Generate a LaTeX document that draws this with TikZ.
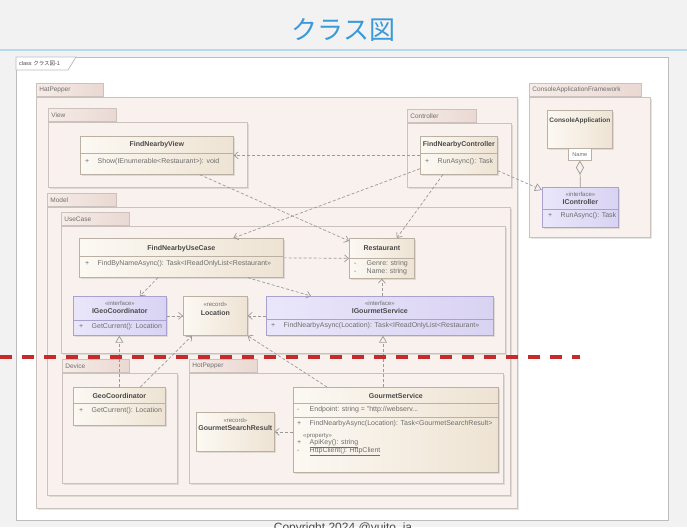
\documentclass[tikz,border=0pt]{standalone}
\usepackage{fontspec}
\setmainfont{Liberation Sans}
\newfontfamily\cjk{Noto Sans CJK JP}
\usetikzlibrary{arrows.meta,calc,shadows}

\definecolor{bggray}{HTML}{F2F2F2}
\definecolor{titleblue}{HTML}{3A9AD9}
\definecolor{rulecol}{HTML}{B5DAF0}
\definecolor{framel}{HTML}{BDBDBD}
\definecolor{pkgfill}{HTML}{F8F1ED}
\definecolor{pkgline}{HTML}{CBC2BE}
\definecolor{tabl}{HTML}{F6ECE8}
\definecolor{tabr}{HTML}{EAD8D2}
\definecolor{clsl}{HTML}{FCF9F3}
\definecolor{clsr}{HTML}{EEE3D3}
\definecolor{clsline}{HTML}{BBB0A4}
\definecolor{ifl}{HTML}{EAE6FA}
\definecolor{ifr}{HTML}{D9D3F3}
\definecolor{ifline}{HTML}{A9A1CE}
\definecolor{txtdark}{HTML}{4A4A4A}
\definecolor{txtgray}{HTML}{6E6E6E}
\definecolor{depc}{HTML}{9A9A9A}
\definecolor{cutred}{HTML}{C62A2A}

\newcommand{\umlvis}[1]{\makebox[12.5pt][l]{#1}}

\tikzset{
    pkg/.style =    {rectangle,
                    fill=pkgfill,
                    draw=pkgline,
                    line width=0.8pt,
                    anchor=north west,
                    inner sep=0pt,
                    drop shadow={shadow xshift=1.5pt,shadow yshift=-1.5pt,opacity=0.2}},
    pkgtab/.style = {rectangle,
                    left color=tabl,
                    right color=tabr,
                    draw=pkgline,
                    line width=0.8pt,
                    anchor=south west,
                    minimum height=13pt,
                    inner xsep=3pt,
                    inner ysep=0pt,
                    text width=#1,
                    align=left,
                    text=txtgray,
                    font=\fontsize{6.5}{7}\selectfont},
    cls/.style =    {rectangle,
                    left color=clsl,
                    right color=clsr,
                    draw=clsline,
                    line width=0.7pt,
                    anchor=north west,
                    inner sep=0pt,
                    drop shadow={shadow xshift=1.2pt,shadow yshift=-1.2pt,opacity=0.2}},
    ifc/.style =    {cls,
                    left color=ifl,
                    right color=ifr,
                    draw=ifline},
    sep/.style =    {draw=clsline, line width=0.6pt},
    ifsep/.style =  {draw=ifline, line width=0.6pt},
    cname/.style =  {inner sep=0pt,
                    text=txtdark,
                    font=\fontsize{7}{8}\selectfont\bfseries},
    stereo/.style = {inner sep=0pt,
                    text=txtgray,
                    font=\fontsize{6}{7}\selectfont},
    member/.style = {anchor=west,
                    inner sep=0pt,
                    text=txtgray,
                    font=\fontsize{7}{8}\selectfont},
    dep/.style =    {draw=depc,
                    line width=0.7pt,
                    dash pattern=on 3pt off 2pt,
                    -{Straight Barb[length=4pt,width=7pt]}},
    real/.style =   {draw=depc,
                    line width=0.7pt,
                    dash pattern=on 3pt off 2pt,
                    -{Triangle[open,length=7pt,width=8pt]}},
    aggr/.style =   {draw=depc,
                    line width=0.7pt,
                    {Diamond[open,length=14pt,width=8pt]}-},
    cutline/.style = {draw=cutred,
                    line width=3.2pt,
                    dash pattern=on 12pt off 10pt}
}

\begin{document}
\begin{tikzpicture}[x=1pt,y=-1pt]
    \useasboundingbox (0,0) rectangle (687,527);
    \fill[bggray] (0,0) rectangle (687,527);
    \node[font=\cjk\fontsize{26}{30}\selectfont, text=titleblue] (title) at (343.5,30) {クラス図};
    \draw[rulecol, line width=1.2pt] (0,50) -- (687,50);

    \node[rectangle, fill=white, draw=framel, line width=0.8pt, anchor=north west, inner sep=0pt,
          minimum width=652pt, minimum height=463pt] (frame) at (16,57) {};
    \draw[framel, fill=white, line width=0.8pt] (frame.north west) -- ++(60,0) -- ++(-8,13) -- ++(-52,0) -- cycle;
    \node[anchor=west, inner sep=0pt, text=txtdark, font=\fontsize{5.5}{6}\selectfont] (frame-lbl)
          at ([xshift=3pt,yshift=-6.5pt]frame.north west) {class {\cjk クラス図}-1};

    \node[pkg, minimum width=481pt, minimum height=411pt] (hatpepper) at (36,97) {};
    \node[pkgtab=61pt] (hatpepper-tab) at (hatpepper.north west) {HatPepper};
    \node[pkg, minimum width=199pt, minimum height=65pt] (view) at (48,122) {};
    \node[pkgtab=62pt] (view-tab) at (view.north west) {View};
    \node[pkg, minimum width=104pt, minimum height=64pt] (controller) at (407,123) {};
    \node[pkgtab=63pt] (controller-tab) at (controller.north west) {Controller};
    \node[pkg, minimum width=463pt, minimum height=288pt] (model) at (47,207) {};
    \node[pkgtab=63pt] (model-tab) at (model.north west) {Model};
    \node[pkg, minimum width=444pt, minimum height=127pt] (usecase) at (61,226) {};
    \node[pkgtab=62pt] (usecase-tab) at (usecase.north west) {UseCase};
    \node[pkg, minimum width=115pt, minimum height=110pt] (device) at (62,373) {};
    \node[pkgtab=61pt] (device-tab) at (device.north west) {Device};
    \node[pkg, minimum width=314pt, minimum height=110pt] (hotpepper) at (189,373) {};
    \node[pkgtab=62pt] (hotpepper-tab) at (hotpepper.north west) {HotPepper};
    \node[pkg, minimum width=121pt, minimum height=140pt] (caf) at (529,97) {};
    \node[pkgtab=106pt] (caf-tab) at (caf.north west) {ConsoleApplicationFramework};

    \node[cls, minimum width=153pt, minimum height=38pt] (fnview) at (80,136) {};
    \draw[sep] ([yshift=-17pt]fnview.north west) -- ([yshift=-17pt]fnview.north east);
    \node[cname] (fnview-name) at ([yshift=-9pt]fnview.north) {FindNearbyView};
    \node[member] (fnview-op) at ([xshift=5pt,yshift=-26pt]fnview.north west) {\umlvis{+}Show(IEnumerable<Restaurant>): void};

    \node[cls, minimum width=77pt, minimum height=38pt] (fnctrl) at (420,136) {};
    \draw[sep] ([yshift=-17pt]fnctrl.north west) -- ([yshift=-17pt]fnctrl.north east);
    \node[cname] (fnctrl-name) at ([yshift=-9pt]fnctrl.north) {FindNearbyController};
    \node[member] (fnctrl-op) at ([xshift=5pt,yshift=-26pt]fnctrl.north west) {\umlvis{+}RunAsync(): Task};

    \node[cls, minimum width=65pt, minimum height=38pt] (conapp) at (547,110) {};
    \node[cname, font=\fontsize{6.5}{7}\selectfont\bfseries] (conapp-name) at ([yshift=-11pt]conapp.north) {ConsoleApplication};
    \node[rectangle, fill=white, draw=clsline, line width=0.6pt, anchor=north west, inner sep=0pt,
          minimum width=23pt, minimum height=12pt, text=txtgray, font=\fontsize{5.5}{6}\selectfont] (namelbl) at (568,148) {Name};

    \node[ifc, minimum width=76pt, minimum height=40pt] (ictrl) at (542,187) {};
    \draw[ifsep] ([yshift=-22pt]ictrl.north west) -- ([yshift=-22pt]ictrl.north east);
    \node[stereo] (ictrl-st) at ([yshift=-7pt]ictrl.north) {«interface»};
    \node[cname] (ictrl-name) at ([yshift=-15pt]ictrl.north) {IController};
    \node[member] (ictrl-op) at ([xshift=6pt,yshift=-29pt]ictrl.north west) {\umlvis{+}RunAsync(): Task};

    \node[cls, minimum width=204pt, minimum height=39pt] (fnuc) at (79,238) {};
    \draw[sep] ([yshift=-18pt]fnuc.north west) -- ([yshift=-18pt]fnuc.north east);
    \node[cname] (fnuc-name) at ([yshift=-11pt]fnuc.north) {FindNearbyUseCase};
    \node[member] (fnuc-op) at ([xshift=6pt,yshift=-26pt]fnuc.north west) {\umlvis{+}FindByNameAsync(): Task<IReadOnlyList<Restaurant>>};

    \node[cls, minimum width=65pt, minimum height=40pt] (rest) at (349,238) {};
    \draw[sep] ([yshift=-20pt]rest.north west) -- ([yshift=-20pt]rest.north east);
    \node[cname] (rest-name) at ([yshift=-10pt]rest.north) {Restaurant};
    \node[member] (rest-genre) at ([xshift=5pt,yshift=-25.5pt]rest.north west) {\umlvis{-}Genre: string};
    \node[member] (rest-nm) at ([xshift=5pt,yshift=-33.5pt]rest.north west) {\umlvis{-}Name: string};

    \node[ifc, minimum width=93pt, minimum height=39pt] (igeo) at (73,296) {};
    \draw[ifsep] ([yshift=-24pt]igeo.north west) -- ([yshift=-24pt]igeo.north east);
    \node[stereo] (igeo-st) at ([yshift=-7pt]igeo.north) {«interface»};
    \node[cname] (igeo-name) at ([yshift=-15pt]igeo.north) {IGeoCoordinator};
    \node[member] (igeo-op) at ([xshift=6pt,yshift=-31pt]igeo.north west) {\umlvis{+}GetCurrent(): Location};

    \node[cls, minimum width=64pt, minimum height=39pt] (loc) at (183,296) {};
    \node[stereo] (loc-st) at ([yshift=-8pt]loc.north) {«record»};
    \node[cname] (loc-name) at ([yshift=-17pt]loc.north) {Location};

    \node[ifc, minimum width=227pt, minimum height=39pt] (igour) at (266,296) {};
    \draw[ifsep] ([yshift=-23pt]igour.north west) -- ([yshift=-23pt]igour.north east);
    \node[stereo] (igour-st) at ([yshift=-7pt]igour.north) {«interface»};
    \node[cname] (igour-name) at ([yshift=-15pt]igour.north) {IGourmetService};
    \node[member] (igour-op) at ([xshift=5pt,yshift=-30pt]igour.north west) {\umlvis{+}FindNearbyAsync(Location): Task<IReadOnlyList<Restaurant>>};

    \node[cls, minimum width=92pt, minimum height=38pt] (geo) at (73,387) {};
    \draw[sep] ([yshift=-16pt]geo.north west) -- ([yshift=-16pt]geo.north east);
    \node[cname] (geo-name) at ([yshift=-9pt]geo.north) {GeoCoordinator};
    \node[member] (geo-op) at ([xshift=6pt,yshift=-24pt]geo.north west) {\umlvis{+}GetCurrent(): Location};

    \node[cls, minimum width=78pt, minimum height=39pt] (gsr) at (196,412) {};
    \node[stereo] (gsr-st) at ([yshift=-8pt]gsr.north) {«record»};
    \node[cname] (gsr-name) at ([yshift=-16pt]gsr.north) {GourmetSearchResult};

    \node[cls, minimum width=205pt, minimum height=85pt] (gsvc) at (293,387) {};
    \draw[sep] ([yshift=-16pt]gsvc.north west) -- ([yshift=-16pt]gsvc.north east);
    \draw[sep] ([yshift=-30pt]gsvc.north west) -- ([yshift=-30pt]gsvc.north east);
    \node[cname] (gsvc-name) at ([yshift=-9pt]gsvc.north) {GourmetService};
    \node[member] (gsvc-ep) at ([xshift=4pt,yshift=-23pt]gsvc.north west) {\umlvis{-}Endpoint: string = "http://webserv...};
    \node[member] (gsvc-op) at ([xshift=4pt,yshift=-37pt]gsvc.north west) {\umlvis{+}FindNearbyAsync(Location): Task<GourmetSearchResult>};
    \node[member, font=\fontsize{6}{7}\selectfont] (gsvc-st) at ([xshift=10pt,yshift=-49pt]gsvc.north west) {«property»};
    \node[member] (gsvc-key) at ([xshift=4pt,yshift=-57pt]gsvc.north west) {\umlvis{+}\underline{ApiKey(): string}};
    \node[member] (gsvc-http) at ([xshift=4pt,yshift=-65pt]gsvc.north west) {\umlvis{-}\underline{HttpClient(): HttpClient}};

    \coordinate (gsvc-top) at ([xshift=90pt]gsvc.north west);
    \draw[dep]  (fnctrl.west) -- (fnview.east);
    \draw[dep]  ([xshift=43pt]fnview.south) -- ([yshift=-3pt]rest.north west);
    \draw[dep]  ([yshift=6pt]fnctrl.south west) -- ([xshift=52pt]fnuc.north);
    \draw[dep]  ([xshift=-16pt]fnctrl.south) -- ([xshift=15pt]rest.north);
    \draw[real] ([yshift=4pt]fnctrl.south east) -- ([yshift=-3pt]ictrl.north west);
    \draw[aggr] (namelbl.south) -- (ictrl.north);
    \draw[dep]  (fnuc.east) -- (rest.west);
    \draw[dep]  ([xshift=79pt]fnuc.south west) -- ([xshift=20pt]igeo.north);
    \draw[dep]  ([xshift=-36pt]fnuc.south east) -- ([xshift=45pt]igour.north west);
    \draw[dep]  (igeo.east) -- (loc.west);
    \draw[dep]  (igour.west) -- (loc.east);
    \draw[dep]  (rest.south |- igour.north) -- (rest.south);
    \draw[real] (geo.north) -- (geo.north |- igeo.south);
    \draw[dep]  ([xshift=21pt]geo.north) -- ([xshift=9pt]loc.south west);
    \draw[real] (gsvc-top) -- (gsvc-top |- igour.south);
    \draw[dep]  ([xshift=34pt]gsvc.north west) -- (loc.south east);
    \draw[dep]  (gsvc.west |- gsr.east) -- (gsr.east);

    \draw[cutline] (0,357) -- (580,357);
    \node[anchor=base, inner sep=0pt, text=txtdark, font=\fontsize{12}{14}\selectfont] (copyright) at (343,531.5) {Copyright 2024 @yuito\_ja};
\end{tikzpicture}
\end{document}
